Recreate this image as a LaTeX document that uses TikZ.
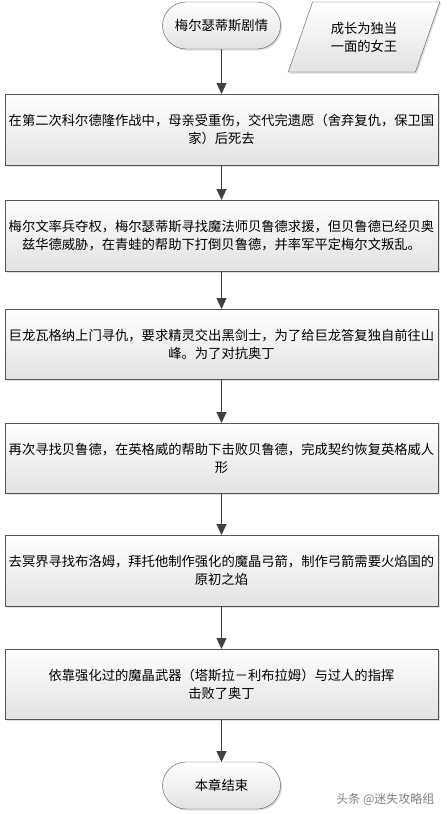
\documentclass[tikz,border=0pt]{standalone}
\usepackage{fontspec}
\setmainfont{Noto Sans CJK SC}
\usetikzlibrary{arrows.meta,positioning,shapes.geometric,shadows}
\definecolor{StepGray}{HTML}{555555}
\definecolor{ArrowGray}{HTML}{404040}
\definecolor{ShadeGray}{HTML}{E2E2E2}
\begin{document}
\begin{tikzpicture}[x=1pt,y=1pt,>={Triangle[length=11pt,width=10pt]},
 font=\fontsize{13.3}{18}\selectfont,
 box/.style={draw=StepGray,top color=white,bottom color=ShadeGray,
             drop shadow={shadow xshift=1.5pt,shadow yshift=-1.5pt,opacity=.25},
             minimum width=433pt,minimum height=71pt,align=center,outer sep=0pt},
 terminal/.style={box,rounded corners=23.5pt,minimum width=118pt,minimum height=47pt},
 note/.style={box,trapezium,trapezium left angle=63.4,trapezium right angle=116.6,
              trapezium stretches=true,inner sep=1pt,
              minimum width=152pt,minimum height=70pt},
 flow/.style={->,draw=ArrowGray,line width=1.2pt}]
\useasboundingbox (0,0) rectangle (447,-814);
\node[terminal] (start) at (221.5,-25.5) {梅尔瑟蒂斯剧情};
\node[note] (queen) at (364,-37) {成长为独当\\一面的女王};
\node[box,below=45pt of start] (mother) {在第二次科尔德隆作战中，母亲受重伤，交代完遗愿（舍弃复仇，保卫国\\家）后死去};
\node[box,below=35pt of mother] (revolt) {梅尔文率兵夺权，梅尔瑟蒂斯寻找魔法师贝鲁德求援，但贝鲁德已经贝奥\\兹华德威胁，在青蛙的帮助下打倒贝鲁德，并率军平定梅尔文叛乱。};
\node[box,below=38pt of revolt,minimum height=70pt] (dragon) {巨龙瓦格纳上门寻仇，要求精灵交出黑剑士，为了给巨龙答复独自前往山\\峰。为了对抗奥丁};
\node[box,below=44pt of dragon,minimum height=70pt] (ingvy) {再次寻找贝鲁德，在英格威的帮助下击败贝鲁德，完成契约恢复英格威人\\形};
\node[box,below=42pt of ingvy] (flame) {去冥界寻找布洛姆，拜托他制作强化的魔晶弓箭，制作弓箭需要火焰国的\\原初之焰};
\node[box,below=43pt of flame,minimum height=70pt] (odin) {依靠强化过的魔晶武器（塔斯拉－利布拉姆）与过人的指挥\\击败了奥丁};
\node[terminal,below=43pt of odin] (finish) {本章结束};
\node[text=gray,font=\fontsize{12}{14}\selectfont,anchor=east] (mark) at (438,-799) {头条 @迷失攻略组};
\draw[flow] (start)--(mother);
\draw[flow] (mother)--(revolt);
\draw[flow] (revolt)--(dragon);
\draw[flow] (dragon)--(ingvy);
\draw[flow] (ingvy)--(flame);
\draw[flow] (flame)--(odin);
\draw[flow] (odin)--(finish);
\end{tikzpicture}
\end{document}
